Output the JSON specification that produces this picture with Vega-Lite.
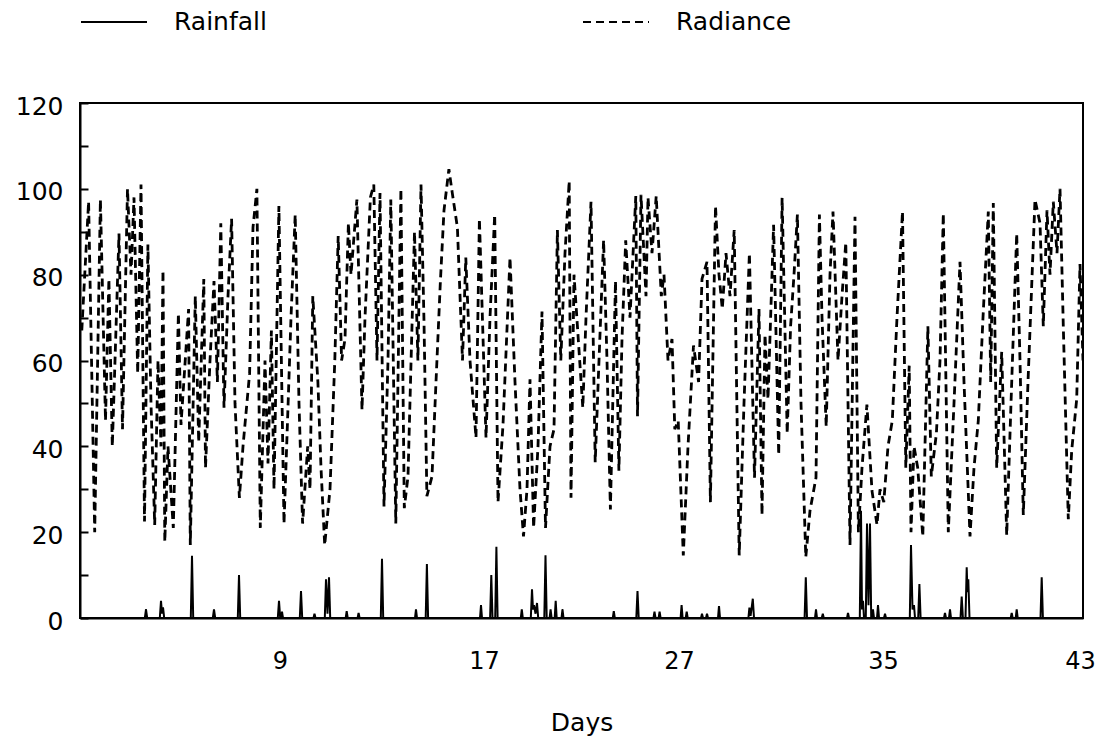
{
  "$schema": "https://vega.github.io/schema/vega-lite/v6.json",
  "width": 1003,
  "height": 515,
  "autosize": {"type": "none"},
  "padding": {"left": 80, "top": 103, "right": 23, "bottom": 126},
  "background": "white",
  "config": {
    "view": {"stroke": "black", "strokeWidth": 2},
    "font": "DejaVu Sans"
  },
  "datasets": {
    "rad": [
      {"h":1.8,"v":67},{"h":8.6,"v":97},{"h":14.7,"v":20},{"h":20.4,"v":97.5},{"h":25.5,"v":46},{"h":28.9,"v":79},{"h":32.3,"v":40},{"h":39,"v":89.6},{"h":42.5,"v":44},{"h":47.5,"v":100},{"h":51,"v":80},{"h":54,"v":98},{"h":57.7,"v":57},{"h":61,"v":101},{"h":64.5,"v":22.5},{"h":67.9,"v":87},{"h":71,"v":50},{"h":74.7,"v":21.7},{"h":78,"v":60},{"h":81,"v":40},{"h":83,"v":81},{"h":84.8,"v":17.8},{"h":88,"v":40},{"h":93.3,"v":21},{"h":98.4,"v":71},{"h":101,"v":45},{"h":108.6,"v":72},{"h":110.3,"v":17},{"h":115.3,"v":75},{"h":118.7,"v":41},{"h":123.8,"v":79},{"h":125.5,"v":35},{"h":130,"v":60},{"h":134,"v":78.5},{"h":137.4,"v":55},{"h":140.8,"v":92},{"h":144,"v":49},{"h":148,"v":75},{"h":151.6,"v":93},{"h":155,"v":50},{"h":159.4,"v":28},{"h":163,"v":40},{"h":169.6,"v":57},{"h":173,"v":91},{"h":176.9,"v":100},{"h":180.3,"v":21},{"h":185,"v":60},{"h":188,"v":36},{"h":191.4,"v":67},{"h":194,"v":30},{"h":198.9,"v":96},{"h":204,"v":22},{"h":207.4,"v":45},{"h":211,"v":70},{"h":215.2,"v":94},{"h":219,"v":50},{"h":222.6,"v":22},{"h":227.7,"v":40},{"h":230,"v":30},{"h":232.8,"v":75},{"h":237.9,"v":55},{"h":241,"v":35},{"h":244.7,"v":17},{"h":250,"v":30},{"h":254.8,"v":60},{"h":258.2,"v":89},{"h":261.6,"v":60},{"h":265,"v":65},{"h":268.4,"v":92},{"h":271,"v":80},{"h":276.9,"v":97.5},{"h":282,"v":48.5},{"h":285,"v":70},{"h":290.4,"v":98},{"h":293.8,"v":101},{"h":297,"v":60},{"h":300,"v":99},{"h":304,"v":26},{"h":308,"v":60},{"h":310.8,"v":97.5},{"h":315.8,"v":22},{"h":320.9,"v":100},{"h":324.3,"v":25.6},{"h":328,"v":33},{"h":334.5,"v":90},{"h":337.9,"v":60},{"h":341,"v":101},{"h":344,"v":69},{"h":346.9,"v":28.4},{"h":352,"v":33},{"h":356,"v":55},{"h":360.4,"v":78.5},{"h":364,"v":95},{"h":368.9,"v":104.6},{"h":372.3,"v":99},{"h":377.4,"v":91},{"h":382.5,"v":60},{"h":385.8,"v":84},{"h":390,"v":60},{"h":396,"v":42},{"h":399.4,"v":93},{"h":402.8,"v":67},{"h":406,"v":42},{"h":410,"v":70},{"h":414.7,"v":94},{"h":418,"v":27},{"h":423,"v":45},{"h":430,"v":84},{"h":435,"v":55},{"h":440,"v":30},{"h":443.5,"v":19},{"h":447,"v":30},{"h":450,"v":55.6},{"h":453.6,"v":21},{"h":458,"v":40},{"h":462,"v":71.4},{"h":465.5,"v":21},{"h":470,"v":40},{"h":474,"v":44},{"h":477.4,"v":90.4},{"h":480.8,"v":60},{"h":485,"v":85},{"h":489.2,"v":101.8},{"h":491,"v":28},{"h":494,"v":80},{"h":497.7,"v":67},{"h":502.8,"v":49},{"h":506,"v":70},{"h":511,"v":97},{"h":515.2,"v":36.3},{"h":519,"v":60},{"h":523.6,"v":88},{"h":527,"v":60},{"h":530.4,"v":25.3},{"h":535.5,"v":78.5},{"h":538.9,"v":34.3},{"h":542,"v":65},{"h":545.7,"v":88},{"h":550,"v":70},{"h":555.8,"v":98.3},{"h":557.5,"v":47},{"h":561,"v":98.6},{"h":566,"v":75},{"h":568,"v":98},{"h":572,"v":85},{"h":576.2,"v":98.3},{"h":581.3,"v":75},{"h":584,"v":80},{"h":588,"v":60},{"h":592,"v":65},{"h":594.8,"v":44},{"h":598.2,"v":46},{"h":603.3,"v":14.6},{"h":608,"v":40},{"h":613.5,"v":63.5},{"h":618.6,"v":55},{"h":622,"v":79},{"h":627,"v":83},{"h":630.4,"v":27},{"h":635.5,"v":96},{"h":639,"v":80},{"h":642.3,"v":72},{"h":646,"v":85},{"h":650,"v":75},{"h":654.2,"v":90.4},{"h":659.2,"v":14.6},{"h":664,"v":50},{"h":669.4,"v":85},{"h":674.5,"v":32.7},{"h":679,"v":72},{"h":682,"v":24},{"h":685,"v":66},{"h":688,"v":51},{"h":693.6,"v":91.6},{"h":698.7,"v":38},{"h":702.1,"v":97.9},{"h":707.2,"v":43},{"h":710.6,"v":68},{"h":714,"v":80},{"h":717.4,"v":94},{"h":721,"v":50},{"h":725.8,"v":14.2},{"h":730,"v":25},{"h":736,"v":32.7},{"h":739.4,"v":94},{"h":742,"v":70},{"h":746.2,"v":44.6},{"h":750,"v":80},{"h":753,"v":94.7},{"h":758,"v":60},{"h":762,"v":75},{"h":765.8,"v":87.5},{"h":770,"v":17},{"h":775,"v":93.5},{"h":778.4,"v":20},{"h":782,"v":35},{"h":786.9,"v":49.7},{"h":792,"v":29.6},{"h":797,"v":21.7},{"h":800,"v":30},{"h":803.8,"v":27},{"h":808,"v":40},{"h":812.3,"v":46},{"h":817,"v":70},{"h":822.5,"v":94.7},{"h":825.8,"v":35},{"h":829.2,"v":58.8},{"h":831,"v":20},{"h":834,"v":40},{"h":837.7,"v":35},{"h":842.8,"v":19},{"h":847.9,"v":68},{"h":851.3,"v":33},{"h":856.4,"v":43},{"h":860,"v":60},{"h":863.3,"v":94.3},{"h":868.3,"v":20},{"h":874,"v":50},{"h":880,"v":83},{"h":884,"v":55},{"h":890,"v":19},{"h":894,"v":35},{"h":898.3,"v":46},{"h":903,"v":70},{"h":908.3,"v":94.7},{"h":910.7,"v":55},{"h":913.3,"v":96.7},{"h":916.7,"v":35},{"h":921.7,"v":62},{"h":926.7,"v":19.3},{"h":931,"v":50},{"h":936.7,"v":89.6},{"h":940,"v":60},{"h":943.3,"v":24},{"h":948,"v":55},{"h":955,"v":97.5},{"h":960,"v":92},{"h":963.3,"v":68},{"h":967,"v":95},{"h":970,"v":80},{"h":973.3,"v":97},{"h":977,"v":85},{"h":980,"v":100},{"h":983.3,"v":68},{"h":988.3,"v":23},{"h":991.7,"v":39},{"h":996.7,"v":51},{"h":1000,"v":82.5},{"h":1003,"v":60}
    ],
    "rain": [
      {"h":0,"v":0},{"h":64.8,"v":0},{"h":66,"v":2},{"h":67.2,"v":0},{"h":79.8,"v":0},{"h":81,"v":4},{"h":82,"v":1},{"h":83,"v":2.5},{"h":84.2,"v":0},{"h":110.8,"v":0},{"h":112,"v":14.5},{"h":113.2,"v":0},{"h":132.8,"v":0},{"h":134,"v":2},{"h":135.2,"v":0},{"h":157.8,"v":0},{"h":159,"v":10},{"h":160.2,"v":0},{"h":197.8,"v":0},{"h":199,"v":4},{"h":200.2,"v":0},{"h":201,"v":0},{"h":202,"v":1.5},{"h":203,"v":0},{"h":219.8,"v":0},{"h":221,"v":6.3},{"h":222.2,"v":0},{"h":233.5,"v":0},{"h":234.5,"v":1},{"h":235.5,"v":0},{"h":244.8,"v":0},{"h":246,"v":9},{"h":247.5,"v":1},{"h":249,"v":9.5},{"h":250.2,"v":0},{"h":265.7,"v":0},{"h":266.7,"v":1.6},{"h":267.7,"v":0},{"h":277.6,"v":0},{"h":278.6,"v":1.2},{"h":279.6,"v":0},{"h":300.8,"v":0},{"h":302,"v":13.8},{"h":303.2,"v":0},{"h":335,"v":0},{"h":336,"v":2},{"h":337,"v":0},{"h":345.7,"v":0},{"h":346.9,"v":12.6},{"h":348.1,"v":0},{"h":400,"v":0},{"h":401,"v":3},{"h":402,"v":0},{"h":410.1,"v":0},{"h":411.3,"v":10},{"h":412.5,"v":0},{"h":415.2,"v":0},{"h":416.4,"v":16.6},{"h":417.6,"v":0},{"h":440.8,"v":0},{"h":441.8,"v":2},{"h":442.8,"v":0},{"h":450.8,"v":0},{"h":452,"v":6.7},{"h":453,"v":2},{"h":454,"v":3},{"h":455.5,"v":1},{"h":457,"v":3.5},{"h":458.2,"v":0},{"h":464.3,"v":0},{"h":465.5,"v":14.6},{"h":466.7,"v":0},{"h":469.6,"v":0},{"h":470.6,"v":2},{"h":471.6,"v":0},{"h":474.7,"v":0},{"h":475.7,"v":4},{"h":476.7,"v":0},{"h":481.5,"v":0},{"h":482.5,"v":2},{"h":483.5,"v":0},{"h":532.8,"v":0},{"h":533.8,"v":1.6},{"h":534.8,"v":0},{"h":556.3,"v":0},{"h":557.5,"v":6.3},{"h":558.7,"v":0},{"h":573.5,"v":0},{"h":574.5,"v":1.5},{"h":575.5,"v":0},{"h":578.6,"v":0},{"h":579.6,"v":1.5},{"h":580.6,"v":0},{"h":600.6,"v":0},{"h":601.6,"v":3},{"h":602.6,"v":0},{"h":605.7,"v":0},{"h":606.7,"v":1.5},{"h":607.7,"v":0},{"h":621,"v":0},{"h":622,"v":1},{"h":623,"v":0},{"h":626,"v":0},{"h":627,"v":1},{"h":628,"v":0},{"h":638,"v":0},{"h":639,"v":2.8},{"h":640,"v":0},{"h":668.4,"v":0},{"h":669.4,"v":2.4},{"h":670.6,"v":0.5},{"h":672.8,"v":4.5},{"h":674,"v":0},{"h":724.6,"v":0},{"h":725.8,"v":9.5},{"h":727,"v":0},{"h":735,"v":0},{"h":736,"v":2},{"h":737,"v":0},{"h":741.8,"v":0},{"h":742.8,"v":1},{"h":743.8,"v":0},{"h":767,"v":0},{"h":768,"v":1.2},{"h":769,"v":0},{"h":779.8,"v":0},{"h":781,"v":25},{"h":782,"v":2},{"h":783,"v":4},{"h":784,"v":0},{"h":785.8,"v":0},{"h":787,"v":22},{"h":788.5,"v":3},{"h":790,"v":22},{"h":791.2,"v":0},{"h":792.5,"v":0},{"h":793,"v":2},{"h":794,"v":0},{"h":797,"v":0},{"h":798,"v":3},{"h":799,"v":0},{"h":804,"v":0},{"h":805,"v":1},{"h":806,"v":0},{"h":829.8,"v":0},{"h":831,"v":17},{"h":832.5,"v":2},{"h":834,"v":3},{"h":835,"v":0},{"h":838.2,"v":0},{"h":839.4,"v":7.9},{"h":840.6,"v":0},{"h":864,"v":0},{"h":865,"v":1.2},{"h":866,"v":0},{"h":869,"v":0},{"h":870,"v":2},{"h":871,"v":0},{"h":880.5,"v":0},{"h":881.7,"v":5},{"h":882.9,"v":0},{"h":885.5,"v":0},{"h":886.7,"v":11.8},{"h":887.5,"v":6},{"h":888.3,"v":9},{"h":889.5,"v":0},{"h":930.7,"v":0},{"h":931.7,"v":1.2},{"h":932.7,"v":0},{"h":935.7,"v":0},{"h":936.7,"v":2},{"h":937.7,"v":0},{"h":960.5,"v":0},{"h":961.7,"v":9.5},{"h":962.9,"v":0},{"h":1003,"v":0}
    ]
  },
  "encoding": {
    "x": {
      "field": "h",
      "type": "quantitative",
      "scale": {"domain": [0, 1003], "nice": false, "zero": false},
      "axis": {
        "title": "Days",
        "values": [200, 404, 599, 803, 1000],
        "labelExpr": "datum.value == 200 ? '9' : datum.value == 404 ? '17' : datum.value == 599 ? '27' : datum.value == 803 ? '35' : '43'",
        "ticks": false,
        "grid": false,
        "domainColor": "black",
        "domainWidth": 2,
        "labelFont": "DejaVu Sans",
        "labelFontSize": 24,
        "labelColor": "black",
        "labelPadding": 31,
        "labelFlush": false,
        "titleFont": "DejaVu Sans",
        "titleFontSize": 25,
        "titleFontWeight": "normal",
        "titleColor": "black",
        "titlePadding": 37
      }
    },
    "y": {
      "field": "v",
      "type": "quantitative",
      "scale": {"domain": [0, 120], "nice": false},
      "axis": {
        "title": null,
        "values": [0, 10, 20, 30, 40, 50, 60, 70, 80, 90, 100, 110, 120],
        "labelExpr": "datum.value % 20 == 0 ? datum.label : ''",
        "grid": false,
        "tickSize": -8,
        "tickWidth": 2,
        "tickColor": "black",
        "domainColor": "black",
        "domainWidth": 2,
        "labelFont": "DejaVu Sans",
        "labelFontSize": 25,
        "labelColor": "black",
        "labelPadding": 25,
        "labelOffset": 3
      }
    }
  },
  "layer": [
    {
      "data": {"name": "rad"},
      "mark": {"type": "line", "strokeWidth": 2.8, "color": "black", "clip": true},
      "encoding": {
        "strokeDash": {
          "datum": "Radiance",
          "type": "nominal",
          "scale": {"domain": ["Rainfall", "Radiance"], "range": [[1, 0], [8, 5]]},
          "legend": {
            "title": null,
            "orient": "none",
            "legendX": 0,
            "legendY": -115,
            "direction": "horizontal",
            "symbolType": "stroke",
            "symbolSize": 4356,
            "symbolStrokeWidth": 2,
            "symbolStrokeColor": "black",
            "labelFont": "DejaVu Sans",
            "labelFontSize": 25,
            "labelColor": "black",
            "labelOffset": 26,
            "columnPadding": 312,
            "padding": 0
          }
        }
      }
    },
    {
      "data": {"name": "rain"},
      "mark": {"type": "line", "strokeWidth": 2, "color": "black", "clip": true},
      "encoding": {
        "strokeDash": {"datum": "Rainfall", "type": "nominal"}
      }
    }
  ]
}
